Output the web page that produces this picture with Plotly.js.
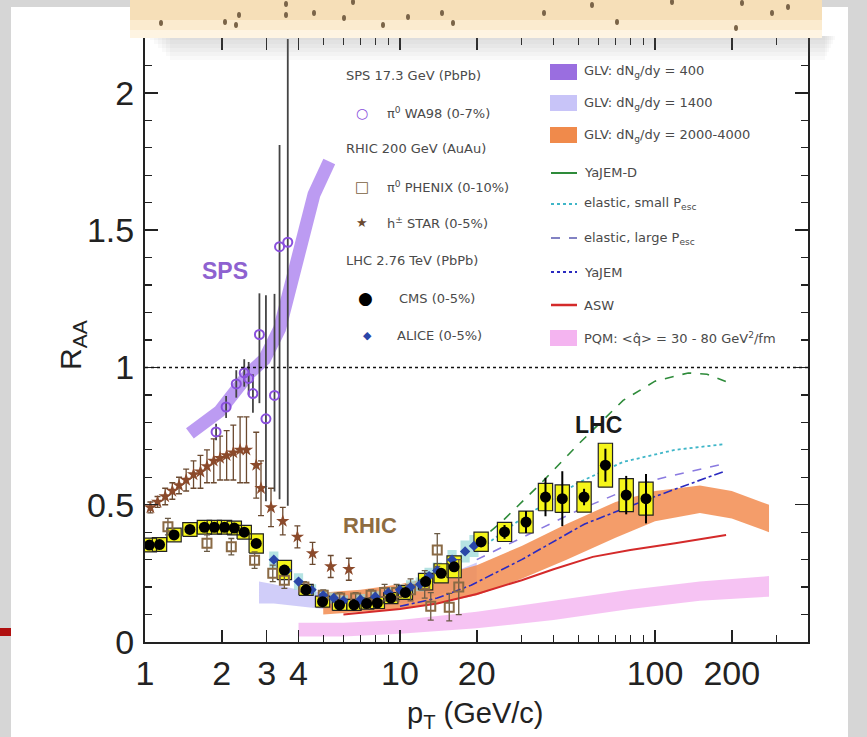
<!DOCTYPE html>
<html><head><meta charset="utf-8">
<script src="https://cdn.plot.ly/plotly-3.0.1.min.js"></script>
<style>html,body{margin:0;padding:0;background:#d9d9d9}</style>
</head><body>
<div id="chart" style="width:867px;height:737px"></div>
<script>
// ---------------- DATA ----------------
const xTickVals = [1,2,3,4,10,20,100,200];
const xTickText = ['1','2','3','4','10','20','100','200'];
const yTickVals = [0,0.5,1,1.5,2];
const yTickText = ['0','0.5','1','1.5','2'];

// SPS: GLV dNg/dy=400 band (centre line)
const spsBandX = [1.5,1.96,2.57,2.94,3.37,3.68,4.03,4.6,5.28];
const spsBandY = [0.76,0.84,0.98,1.03,1.14,1.28,1.46,1.63,1.75];

// WA98 pi0 (0-7%)
const wa98X = [1.9,2.08,2.28,2.45,2.55,2.65,2.81,2.98,3.22,3.37,3.63];
const wa98Y = [0.765,0.856,0.94,0.98,0.96,0.905,1.12,0.813,0.898,1.44,1.456];
const wa98Up = [0.03,0.04,0.05,0.05,0.06,0.07,0.15,0.45,0.37,0.37,0.74];
const wa98Dn = [0.03,0.04,0.05,0.05,0.06,0.07,0.25,0.3,0.35,0.92,0.96];

// STAR h+- (0-5%)
const starX = [1.05,1.12,1.2,1.28,1.36,1.45,1.55,1.65,1.75,1.86,1.97,2.09,2.22,2.36,2.5,2.73,2.85,3.12,3.47,3.96,4.54,5.35,6.3];
const starY = [0.49,0.51,0.53,0.55,0.57,0.59,0.61,0.62,0.64,0.66,0.67,0.68,0.69,0.70,0.70,0.644,0.56,0.49,0.44,0.383,0.323,0.275,0.265];
const starErr = [0.02,0.02,0.03,0.03,0.03,0.04,0.05,0.06,0.06,0.08,0.08,0.09,0.1,0.12,0.12,0.12,0.1,0.07,0.05,0.04,0.04,0.04,0.04];

// PHENIX pi0 (0-10%)
const phenixX = [1.23,1.75,2.18,2.69,3.17,3.52,4.2,5.0,5.8,6.7,7.7,8.7,9.7,11,12.5,13.2,14,15.6,17];
const phenixY = [0.42,0.36,0.347,0.298,0.25,0.225,0.2,0.17,0.16,0.16,0.17,0.18,0.18,0.19,0.21,0.13,0.335,0.127,0.2];
const phenixErr = [0.03,0.03,0.03,0.03,0.03,0.03,0.02,0.02,0.02,0.02,0.02,0.03,0.03,0.04,0.05,0.05,0.06,0.05,0.1];

// CMS (0-5%)
const cmsX = [1.04,1.14,1.3,1.5,1.71,1.87,2.05,2.24,2.45,2.73,3.52,4.28,4.97,5.79,6.6,7.4,8.15,9.2,10.5,12.6,14.5,16.3,20.8,25.7,31.2,37.2,43.3,52.7,63.9,77.1,92.2];
const cmsY = [0.353,0.355,0.39,0.41,0.418,0.418,0.418,0.415,0.4,0.359,0.262,0.19,0.147,0.135,0.135,0.14,0.142,0.16,0.18,0.22,0.25,0.274,0.365,0.401,0.437,0.528,0.522,0.528,0.644,0.535,0.522];
const cmsStat = [0.005,0.005,0.005,0.005,0.005,0.005,0.005,0.005,0.005,0.005,0.005,0.005,0.005,0.005,0.005,0.005,0.005,0.006,0.008,0.01,0.012,0.015,0.02,0.025,0.04,0.07,0.1,0.03,0.06,0.07,0.09];
const cmsSys = [0.025,0.025,0.025,0.025,0.025,0.025,0.025,0.025,0.025,0.035,0.035,0.02,0.02,0.02,0.02,0.02,0.02,0.02,0.025,0.03,0.035,0.04,0.035,0.035,0.04,0.05,0.05,0.055,0.08,0.06,0.06];

// ALICE (0-5%)
const aliceX = [3.2,3.6,4.0,4.5,5.0,5.5,6.0,7.0,8.0,9.0,10,11,12,13,14,16,18,19.5];
const aliceY = [0.30,0.26,0.22,0.19,0.17,0.16,0.15,0.155,0.165,0.18,0.19,0.2,0.21,0.24,0.26,0.3,0.33,0.35];
const aliceSys = [0.03,0.03,0.03,0.02,0.02,0.02,0.02,0.02,0.02,0.02,0.02,0.025,0.025,0.03,0.03,0.035,0.04,0.04];

// GLV dNg/dy=1400 band
const glv1400X = [2.8,3.2,4,5,7,10,14,20];
const glv1400Lo = [0.14,0.14,0.13,0.12,0.12,0.14,0.17,0.22];
const glv1400Hi = [0.22,0.21,0.19,0.18,0.17,0.19,0.23,0.29];

// GLV dNg/dy=2000-4000 band
const glvLhcX = [5,7,10,14,20,30,45,70,100,150,200,280];
const glvLhcLo = [0.10,0.11,0.12,0.14,0.17,0.23,0.30,0.38,0.44,0.47,0.45,0.40];
const glvLhcHi = [0.18,0.19,0.21,0.24,0.28,0.35,0.43,0.51,0.55,0.57,0.55,0.50];

// PQM band
const pqmX = [4,6,10,20,40,80,150,280];
const pqmLo = [0.02,0.02,0.03,0.05,0.08,0.12,0.15,0.165];
const pqmHi = [0.07,0.07,0.08,0.11,0.15,0.19,0.22,0.24];

// Model curves
const yajemDX = [20,25,35,50,75,100,135,160,200];
const yajemDY = [0.36,0.437,0.57,0.72,0.88,0.95,0.98,0.975,0.94];
const elSmallX = [20,30,50,75,120,185];
const elSmallY = [0.33,0.45,0.58,0.656,0.7,0.72];
const elLargeX = [20,30,50,80,104,189];
const elLargeY = [0.3,0.38,0.48,0.56,0.595,0.65];
const yajemX = [10,14,19,30,53,100,185];
const yajemY = [0.13,0.16,0.207,0.3,0.43,0.53,0.62];
const aswX = [6,10,14,20,30,40,57,80,120,190];
const aswY = [0.10,0.12,0.14,0.175,0.225,0.265,0.31,0.335,0.36,0.39];

// ---------------- HELPERS ----------------
const L=145, R=808, T=38, B=642;
const px = x => (x-L)/(R-L);
const py = y => (B-y)/(B-T);

function band(x, lo, hi){
  return {x: x.concat(x.slice().reverse()), y: lo.concat(hi.slice().reverse())};
}
function boxes(x, y, hh, hw){
  const bx=[], by=[];
  for(let i=0;i<x.length;i++){
    const f = Math.pow(10, hw);
    const x0=x[i]/f, x1=x[i]*f, y0=y[i]-hh[i], y1=y[i]+hh[i];
    bx.push(x0,x1,x1,x0,x0,null);
    by.push(y0,y0,y1,y1,y0,null);
  }
  return {x:bx, y:by};
}

const pqmB = band(pqmX,pqmLo,pqmHi);
const g14B = band(glv1400X,glv1400Lo,glv1400Hi);
const glvB = band(glvLhcX,glvLhcLo,glvLhcHi);
const cmsBox = boxes(cmsX,cmsY,cmsSys,0.028);
const aliceBox = boxes(aliceX,aliceY,aliceSys,0.018);

const traces = [
  {x:pqmB.x,y:pqmB.y,fill:'toself',fillcolor:'rgba(244,180,240,0.8)',line:{width:0},mode:'lines',hoverinfo:'skip'},
  {x:g14B.x,y:g14B.y,fill:'toself',fillcolor:'rgba(200,196,248,0.85)',line:{width:0},mode:'lines',hoverinfo:'skip'},
  {x:glvB.x,y:glvB.y,fill:'toself',fillcolor:'rgba(242,140,80,0.85)',line:{width:0},mode:'lines',hoverinfo:'skip'},
  {x:spsBandX,y:spsBandY,mode:'lines',line:{color:'rgba(176,138,240,0.85)',width:13},hoverinfo:'skip'},
  {x:yajemDX,y:yajemDY,mode:'lines',line:{color:'#2e8b3a',width:1.6,dash:'dash'}},
  {x:elSmallX,y:elSmallY,mode:'lines',line:{color:'#3fb6c8',width:1.8,dash:'dot'}},
  {x:elLargeX,y:elLargeY,mode:'lines',line:{color:'#8a7ae0',width:1.6,dash:'dash'}},
  {x:yajemX,y:yajemY,mode:'lines',line:{color:'#2a2ac0',width:1.6,dash:'dashdot'}},
  {x:aswX,y:aswY,mode:'lines',line:{color:'#d42a2a',width:2}},
  {x:aliceBox.x,y:aliceBox.y,fill:'toself',fillcolor:'rgba(150,215,215,0.7)',line:{width:0},mode:'lines',hoverinfo:'skip'},
  {x:cmsBox.x,y:cmsBox.y,fill:'toself',fillcolor:'#f5f51a',line:{color:'#222',width:1.2},mode:'lines',hoverinfo:'skip'},
  {x:starX,y:starY,mode:'markers',marker:{symbol:'star',size:10,color:'#8b4a2b'},
   error_y:{type:'data',array:starErr,color:'#6b4a30',thickness:1.3,width:3}},
  {x:phenixX,y:phenixY,mode:'markers',marker:{symbol:'square-open',size:9,color:'#8a6a45',line:{width:2}},
   error_y:{type:'data',array:phenixErr,color:'#6a5a45',thickness:1.3,width:3}},
  {x:wa98X,y:wa98Y,mode:'markers',marker:{symbol:'circle-open',size:9,color:'#8a50dd',line:{width:2}},
   error_y:{type:'data',symmetric:false,array:wa98Up,arrayminus:wa98Dn,color:'#444',thickness:1.8,width:0}},
  {x:aliceX,y:aliceY,mode:'markers',marker:{symbol:'diamond',size:8,color:'#2a46a8'}},
  {x:cmsX,y:cmsY,mode:'markers',marker:{symbol:'circle',size:11,color:'#000'},
   error_y:{type:'data',array:cmsStat,color:'#000',thickness:2,width:0}}
];

// ---------------- DECOR / LAYOUT ----------------
const decorDots = [[161,23],[225,22],[239,15],[236,25],[286,4],[286,15],[314,13],[344,18],[353,2],[383,25],[408,17],[442,13],[453,23],[544,13],[592,5],[617,22],[672,2],[736,28],[742,3],[772,13],[788,7]];

const shapes = [
  {type:'rect',xref:'paper',yref:'paper',x0:px(11),x1:px(848),y0:py(737),y1:py(7),fillcolor:'#ffffff',line:{width:0},layer:'below'},
  {type:'rect',xref:'paper',yref:'paper',x0:px(0),x1:px(11),y0:py(636),y1:py(628),fillcolor:'#b01010',line:{width:0},layer:'below'},
  {type:'line',xref:'paper',yref:'y',x0:0,x1:1,y0:1,y1:1,line:{color:'#111',width:1.5,dash:'dot'},layer:'above'}
];
// soft shadow below the beige box
for(let i=0;i<6;i++){
  shapes.push({type:'rect',xref:'paper',yref:'paper',x0:px(150+i*4),x1:px(835-i*2),y0:py(40+i*4),y1:py(36),fillcolor:'rgba(110,110,110,0.045)',line:{width:0},layer:'above'});
}
shapes.push(
  {type:'rect',xref:'paper',yref:'paper',x0:px(130),x1:px(822),y0:py(38),y1:py(-5),fillcolor:'#f6dfb8',line:{width:0},layer:'above'},
  {type:'rect',xref:'paper',yref:'paper',x0:px(130),x1:px(822),y0:py(38),y1:py(20),fillcolor:'#fbebcf',line:{width:0},layer:'above'},
  {type:'rect',xref:'paper',yref:'paper',x0:px(130),x1:px(822),y0:py(38),y1:py(30),fillcolor:'#fef4e2',line:{width:0},layer:'above'}
);
decorDots.forEach(d=>shapes.push({type:'circle',xref:'paper',yref:'paper',x0:px(d[0]-2),x1:px(d[0]+2),y0:py(d[1]+3),y1:py(d[1]-3),fillcolor:'#7a6448',line:{width:0},layer:'above'}));

// legend swatches / line samples (right column)
const swatch = (y,c)=>({type:'rect',xref:'paper',yref:'paper',x0:px(550),x1:px(577),y0:py(y+8),y1:py(y-8),fillcolor:c,line:{width:0}});
const sample = (y,c,d,w)=>({type:'line',xref:'paper',yref:'paper',x0:px(551),x1:px(577),y0:py(y),y1:py(y),line:{color:c,width:w||1.6,dash:d}});
shapes.push(swatch(72,'#9a6ee0'),swatch(103,'#c8c4f8'),swatch(135,'#f08a4b'),
  sample(173,'#2e8b3a','solid',2),sample(204,'#3fb6c8','dot',2),sample(238,'#5a5ab0','dash'),
  sample(272,'#2a2ac0','dot',2),sample(305,'#d42a2a','solid',2.5),swatch(338,'#f4b4f0'));

const lf = {family:'DejaVu Sans, sans-serif',size:13,color:'#4a4a4a'};
const ann = (x,y,t,extra)=>Object.assign({xref:'paper',yref:'paper',x:px(x),y:py(y),text:t,showarrow:false,xanchor:'left',yanchor:'middle',font:lf},extra||{});
const sym = (x,y,t,c,s)=>ann(x,y,t,{xanchor:'center',font:{family:'DejaVu Sans',size:s||13,color:c}});

const annotations = [
  ann(344,75,'SPS 17.3 GeV (PbPb)'),
  sym(362,113,'○','#8a50dd',14), ann(385,113,'π<sup>0</sup> WA98 (0-7%)'),
  ann(344,148,'RHIC 200 GeV (AuAu)'),
  sym(362,187,'□','#7a6040',15), ann(385,187,'π<sup>0</sup> PHENIX (0-10%)'),
  sym(362,223,'★','#6b4a30',13), ann(385,223,'h<sup>±</sup> STAR (0-5%)'),
  ann(344,260,'LHC 2.76 TeV (PbPb)'),
  sym(365,298,'●','#000',17), ann(397,298,'CMS (0-5%)'),
  sym(367,335,'◆','#2a46a8',11), ann(395,335,'ALICE (0-5%)'),
  ann(582,72,'GLV: dN<sub>g</sub>/dy = 400'),
  ann(582,103,'GLV: dN<sub>g</sub>/dy = 1400'),
  ann(582,135,'GLV: dN<sub>g</sub>/dy = 2000-4000'),
  ann(582,173,'YaJEM-D'),
  ann(582,204,'elastic, small P<sub>esc</sub>'),
  ann(582,238,'elastic, large P<sub>esc</sub>'),
  ann(582,272,'YaJEM'),
  ann(582,305,'ASW'),
  ann(582,338,'PQM: &lt;q̂&gt; = 30 - 80 GeV<sup>2</sup>/fm'),
  // region labels
  {x:Math.log10(2.06),y:1.353,xref:'x',yref:'y',text:'<b>SPS</b>',showarrow:false,font:{family:'Liberation Sans, Arial',size:23,color:'#8e62d0'}},
  {x:Math.log10(7.63),y:0.425,xref:'x',yref:'y',text:'<b>RHIC</b>',showarrow:false,font:{family:'Liberation Sans, Arial',size:22,color:'#8e6c40'}},
  {x:Math.log10(59.8),y:0.789,xref:'x',yref:'y',text:'<b>LHC</b>',showarrow:false,font:{family:'Liberation Sans, Arial',size:23,color:'#1a1a1a'}},
  // axis titles
  {xref:'paper',yref:'paper',x:px(72),y:py(345),xanchor:'center',yanchor:'middle',text:'R<sub>AA</sub>',textangle:-90,showarrow:false,font:{family:'Liberation Sans, Arial',size:30,color:'#222'}},
  {xref:'paper',yref:'paper',x:px(475),y:py(715),xanchor:'center',yanchor:'middle',text:'p<sub>T</sub> (GeV/c)',showarrow:false,font:{family:'Liberation Sans, Arial',size:29,color:'#222'}}
];

const tickFont = {family:'Liberation Sans, Arial, sans-serif',size:34,color:'#222'};
const layout = {
  width:867,height:737,
  margin:{l:L,r:867-R,t:T,b:737-B},
  paper_bgcolor:'#d6d6d6',plot_bgcolor:'#ffffff',
  showlegend:false,
  xaxis:{type:'log',range:[0,2.6],tickvals:xTickVals,ticktext:xTickText,tickfont:tickFont,
    ticks:'inside',ticklen:12,tickwidth:1.5,tickcolor:'#222',showline:true,linecolor:'#222',linewidth:2,mirror:'ticks',
    showgrid:false,zeroline:false,ticklabelstandoff:0,
    minor:{tickvals:[5,6,7,8,9,30,40,50,60,70,80,90,300],ticks:'inside',ticklen:7,tickwidth:1.3,tickcolor:'#222',showgrid:false}},
  yaxis:{range:[0,2.2],tickvals:yTickVals,ticktext:yTickText,tickfont:tickFont,
    ticks:'inside',ticklen:13,tickwidth:1.5,tickcolor:'#222',showline:true,linecolor:'#222',linewidth:2,mirror:'ticks',
    showgrid:false,zeroline:false,ticklabelstandoff:2,
    minor:{dtick:0.1,ticks:'inside',ticklen:7,tickwidth:1.3,tickcolor:'#222',showgrid:false}},
  shapes:shapes,annotations:annotations
};

Plotly.newPlot('chart',traces,layout,{displayModeBar:false,staticPlot:true});
</script>
</body></html>
